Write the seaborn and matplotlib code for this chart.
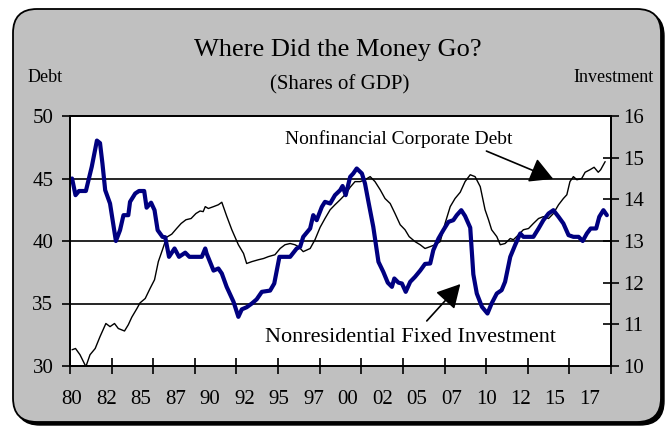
import numpy as np
import matplotlib
matplotlib.use("Agg")
import matplotlib.pyplot as plt
import seaborn as sns
from matplotlib.patches import FancyBboxPatch

# Values. x is the quarter index counted from 1980Q1.
debt_q = [0, 1, 2.3, 4, 5.2, 6.7, 8.1, 9.8, 11, 12.3, 13.4, 15.2, 16.3, 17.3, 18.8, 19.7,
          21.2, 22.6, 23.9, 25, 26.2, 27.4, 28.9, 30.3, 31.6, 33, 34.5, 35.9, 37.1, 38,
          38.6, 39.5, 41, 42.4, 43.4, 44.8, 46.3, 48.2, 49.7, 50.6, 52.1, 54, 55.5, 56.9,
          58.8, 60.3, 61.7, 63.2, 64.6, 65.6, 67, 69, 70.4, 71.9, 73.3, 74.8, 76.2, 77.7,
          79.1, 80.6, 82, 83.5, 84.9, 86.4, 87.8, 89.3, 90.7, 92.2, 93.6, 95.1, 96.5, 97.7,
          99.4, 100.9, 102.3, 103.8, 105.2, 106.7, 108.1, 109.6, 111, 112.5, 113.9, 115.4,
          116.8, 118.3, 119.7, 120.7, 121.6, 123.1, 124.1, 125.5, 127, 127.9, 129.4, 130.8,
          132.3, 133.7, 135.2, 136.6, 138.1, 139.5, 141, 142.4, 143.4, 144.3, 145.3, 146.3,
          147.7, 148.7, 150.1, 151.3, 152.5, 153.2, 154.5]
debt_val = [31.3, 31.4, 30.9, 29.95, 30.9, 31.4, 32.35, 33.4, 33.15, 33.4, 33.0, 32.8, 33.3, 33.9, 34.6, 35.05,
            35.4, 36.2, 36.9, 38.35, 39.3, 40.3, 40.55, 41.0, 41.4, 41.7, 41.8, 42.2, 42.4, 42.35,
            42.75, 42.6, 42.75, 42.9, 43.1, 42.0, 40.9, 39.7, 39.0, 38.2, 38.35, 38.5, 38.6, 38.75,
            38.9, 39.4, 39.7, 39.8, 39.7, 39.55, 39.15, 39.4, 40.1, 41.1, 41.8, 42.5, 42.9, 43.3,
            43.7, 44.3, 44.75, 44.75, 44.9, 45.15, 44.75, 44.1, 43.4, 43.0, 42.2, 41.3, 40.9, 40.35,
            39.95, 39.7, 39.4, 39.55, 39.7, 39.95, 41.4, 42.75, 43.4, 43.9, 44.75, 45.3,
            45.15, 44.35, 42.5, 41.7, 40.9, 40.35, 39.7, 39.8, 40.2, 40.1, 40.5, 40.9,
            41.0, 41.4, 41.8, 41.95, 41.8, 42.2, 42.9, 43.4, 43.7, 44.75, 45.15, 44.9,
            45.0, 45.5, 45.7, 45.9, 45.5, 45.7, 46.35]

inv_q = [0, 1, 2, 4, 5.7, 7.2, 8.1, 8.8, 9.6, 11, 12.7, 13.9, 14.9, 16.3, 16.8, 18.3, 19.4,
         20.9, 21.6, 22.9, 23.9, 24.8, 26.2, 27, 28.1, 29.7, 31, 32.8, 34, 37.6, 38.6, 39,
         41, 42.4, 43.4, 44.8, 46.8, 48.2, 49.2, 50.6, 52.1, 53.5, 55, 57.4, 58.6, 60.1,
         63.2, 65.1, 66.1, 67, 69, 69.9, 70.9, 72.4, 73.3, 74.8, 76.2, 77.7, 78.4, 79.3,
         80.6, 81.5, 82.5, 84, 84.9, 85.9, 87.3, 88.8, 90.2, 91.5, 92.7, 93.4, 94.6, 95.6,
         96.7, 98, 99.4, 100.9, 102.3, 103.8, 104.7, 106.2, 107.6, 109.1, 110.5, 111.5,
         112.8, 113.9, 115.4, 116.3, 117.3, 118.8, 120.4, 121.6, 123.1, 124.5, 125.5, 127,
         128.4, 129.9, 130.8, 133.7, 135.2, 136.6, 138.1, 139.5, 141, 142.4, 143.9, 145.3,
         146.8, 148, 149.2, 150.3, 151.9, 152.8, 154, 155]
inv_val = [14.5, 14.1, 14.2, 14.2, 14.78, 15.41, 15.35, 14.86, 14.22, 13.9, 13.0, 13.26, 13.62, 13.62, 13.94, 14.14, 14.2,
           14.2, 13.8, 13.92, 13.74, 13.26, 13.1, 13.09, 12.62, 12.82, 12.62, 12.72, 12.62, 12.62, 12.82, 12.7,
           12.29, 12.34, 12.22, 11.9, 11.54, 11.18, 11.36, 11.41, 11.5, 11.6, 11.78, 11.81, 11.98, 12.62,
           12.62, 12.82, 12.86, 13.1, 13.3, 13.62, 13.5, 13.82, 13.94, 13.9, 14.1, 14.22, 14.32, 14.1,
           14.54, 14.62, 14.74, 14.62, 14.38, 13.94, 13.34, 12.5, 12.26, 12.0, 11.9, 12.1, 12.0, 11.98,
           11.78, 12.02, 12.14, 12.29, 12.45, 12.46, 12.78, 13.06, 13.26, 13.46, 13.5, 13.62,
           13.74, 13.6, 13.32, 12.2, 11.74, 11.42, 11.26, 11.5, 11.74, 11.82, 12.02, 12.62,
           12.9, 13.18, 13.1, 13.1, 13.3, 13.5, 13.66, 13.74, 13.58, 13.42, 13.14, 13.1,
           13.1, 13.0, 13.18, 13.3, 13.3, 13.58, 13.74, 13.62]

year_labels = ["80", "82", "85", "87", "90", "92", "95", "97",
               "00", "02", "05", "07", "10", "12", "15", "17"]

debt_x = 1980 + np.array(debt_q) / 4
inv_x = 1980 + np.array(inv_q) / 4

sns.set_style("white")
plt.rcParams['font.family'] = ['Liberation Serif', 'DejaVu Serif']
plt.rcParams['text.color'] = 'black'
plt.rcParams['xtick.color'] = 'black'
plt.rcParams['ytick.color'] = 'black'
plt.rcParams['axes.labelcolor'] = 'black'

W, H = 672, 426
fig = plt.figure(figsize=(W / 100, H / 100), dpi=100)
fig.patch.set_facecolor("white")

# grey rounded panel with a small drop shadow (pixel coordinates)
shadow = FancyBboxPatch((16, 1), 648, 413, boxstyle="round,pad=0,rounding_size=24",
                        transform=None, facecolor="black", edgecolor="black", zorder=-11)
panel = FancyBboxPatch((13, 4), 648, 413, boxstyle="round,pad=0,rounding_size=24",
                       transform=None, facecolor="#c0c0c0", edgecolor="black", lw=1.3, zorder=-10)
fig.add_artist(shadow)
fig.add_artist(panel)

ax = fig.add_axes([70 / W, 1 - 366 / H, 541 / W, 250 / H])
ax.set_facecolor("white")

sns.lineplot(x=debt_x, y=debt_val, ax=ax, color="black", lw=1.0)
for lvl in [35, 40, 45]:
    ax.axhline(lvl, color="black", lw=1.2, zorder=0.5)

xmin, xmax = 1979.85, 2019.05
ax.set_xlim(xmin, xmax)
ax.set_ylim(30, 50)
ax.set_yticks([30, 35, 40, 45, 50])
ax.tick_params(axis="y", which="major", direction="out", length=6, width=1.2,
               labelsize=15, pad=6, left=True, color="black", labelcolor="black")

label_pos = [1980 + 2.5 * k for k in range(len(year_labels))]
ax.set_xticks(label_pos)
ax.set_xticklabels(year_labels)
ax.set_xticks(np.linspace(xmin, xmax, 14), minor=True)
ax.tick_params(axis="x", which="major", length=0, labelsize=15, pad=17, labelcolor="black")
ax.tick_params(axis="x", which="minor", direction="inout", length=12, width=1.2,
               bottom=True, color="black")
ax.set_xlabel("")
ax.set_ylabel("")
for sp in ax.spines.values():
    sp.set_color("black")
    sp.set_linewidth(1.3)
    sp.set_visible(True)

ax2 = ax.twinx()
sns.lineplot(x=inv_x, y=inv_val, ax=ax2, color="#000080", lw=3.0)
ax2.set_ylim(10, 16)
ax2.set_yticks(range(10, 17))
ax2.tick_params(axis="y", direction="inout", length=12, width=1.2, labelsize=15,
                pad=3, right=True, color="black", labelcolor="black")
ax2.set_xlim(xmin, xmax)
ax2.set_ylabel("")
for sp in ax2.spines.values():
    sp.set_color("black")
    sp.set_linewidth(1.3)

# titles and axis captions
fig.text(338 / W, 1 - 50 / H, "Where Did the Money Go?", ha="center", va="center", fontsize=19)
fig.text(340 / W, 1 - 85 / H, "(Shares of GDP)", ha="center", va="center", fontsize=15)
fig.text(28 / W, 1 - 78 / H, "Debt", ha="left", va="center", fontsize=13)
fig.text(654 / W, 1 - 78 / H, "Investment", ha="right", va="center", fontsize=13)

# series annotations with arrows
head = "-|>,head_length=0.55,head_width=0.3"
ax.text(0.397, 0.908, "Nonfinancial Corporate Debt", transform=ax.transAxes,
        ha="left", va="center", fontsize=14)
ax.annotate("", xy=(0.898, 0.744), xytext=(0.765, 0.864), xycoords="axes fraction",
            textcoords="axes fraction",
            arrowprops=dict(arrowstyle=head, color="black", lw=1.2, mutation_scale=26))
ax.text(0.360, 0.112, "Nonresidential Fixed Investment", transform=ax.transAxes,
        ha="left", va="center", fontsize=16)
ax.annotate("", xy=(0.725, 0.336), xytext=(0.656, 0.172), xycoords="axes fraction",
            textcoords="axes fraction",
            arrowprops=dict(arrowstyle=head, color="black", lw=1.2, mutation_scale=26))

fig.savefig("out.png", dpi=100)
